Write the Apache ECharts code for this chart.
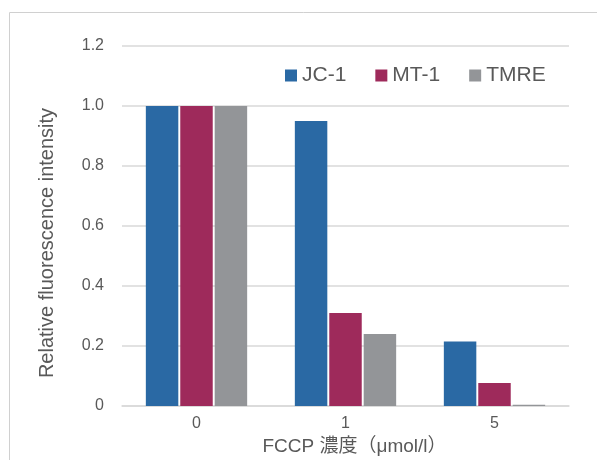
<!DOCTYPE html>
<html>
<head>
<meta charset="utf-8">
<script src="https://cdn.jsdelivr.net/npm/echarts@6/dist/echarts.min.js"></script>
<style>html,body{margin:0;padding:0;background:#fff;}#c{width:597px;height:460px;}</style>
</head>
<body>
<div id="c"></div>
<script>
var categories = ['0', '1', '5'];
var seriesNames = ['JC-1', 'MT-1', 'TMRE'];
var jc1 = [1.0, 0.95, 0.215];
var mt1 = [1.0, 0.31, 0.077];
var tmre = [1.0, 0.24, 0.004];
var colors = ['#2a69a4', '#9e2a5b', '#939598'];
var yTicks = {min: 0, max: 1.2, interval: 0.2};

var font = '"Liberation Sans", Arial, "Noto Sans CJK JP", sans-serif';
var chart = echarts.init(document.getElementById('c'));
var dataSets = [jc1, mt1, tmre];
chart.setOption({
  animation: false,
  textStyle: {fontFamily: font},
  graphic: [{
    type: 'rect', shape: {x: 9.5, y: 12.5, width: 620, height: 480},
    style: {fill: 'none', stroke: '#d0d0d0', lineWidth: 1}, silent: true
  }],
  legend: {
    left: 280, top: 60, itemWidth: 12, itemHeight: 12, itemGap: 29,
    icon: 'rect',
    textStyle: {fontSize: 21, color: '#595959', fontFamily: font},
    data: seriesNames
  },
  grid: {left: 122, right: 28, top: 46, bottom: 54, outerBoundsMode: 'none', containLabel: false},
  xAxis: {
    type: 'category', data: categories,
    axisLine: {lineStyle: {color: '#d9d9d9', width: 1.5}},
    axisTick: {show: false},
    axisLabel: {fontSize: 16, color: '#595959', margin: 10},
    name: 'FCCP 濃度（μmol/l）', nameLocation: 'middle', nameGap: 31,
    nameTextStyle: {fontSize: 19, color: '#595959', fontFamily: font, padding: [0, 0, 0, 18]}
  },
  yAxis: {
    type: 'value', min: yTicks.min, max: yTicks.max, interval: yTicks.interval,
    axisLine: {show: false}, axisTick: {show: false},
    splitLine: {lineStyle: {color: '#d9d9d9', width: 1.5}},
    axisLabel: {fontSize: 16, color: '#595959', margin: 18,
      formatter: function (v) { return v === 0 ? '0' : v.toFixed(1); }},
    name: 'Relative fluorescence intensity', nameLocation: 'middle', nameGap: 65,
    nameTextStyle: {fontSize: 20, color: '#595959', fontFamily: font, padding: [0, 34, 0, 0]}
  },
  series: seriesNames.map(function (n, i) {
    return {
      name: n, type: 'bar', data: dataSets[i],
      barGap: '6%', barCategoryGap: '32%',
      itemStyle: {color: colors[i]}
    };
  })
});
</script>
</body>
</html>
